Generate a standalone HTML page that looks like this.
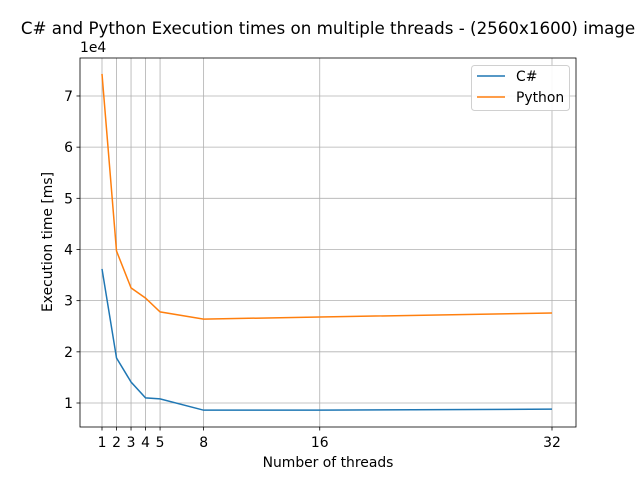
<!DOCTYPE html>
<html><head><meta charset="utf-8"><style>
body{margin:0;background:#fff;font-family:"DejaVu Sans","Liberation Sans",sans-serif;}
svg text{font-family:"DejaVu Sans","Liberation Sans",sans-serif;}
</style></head><body>
<svg id="chart" width="640" height="480" xmlns="http://www.w3.org/2000/svg">
<rect width="640" height="480" fill="#fff"/>
<text x="328" y="34" font-size="16.7" text-anchor="middle">C# and Python Execution times on multiple threads - (2560x1600) image</text>
<g id="grid"></g>
<g id="lines"></g>
<g id="axes"></g>
<text x="328" y="467" font-size="13.9" text-anchor="middle">Number of threads</text>
<text transform="translate(52,242) rotate(-90)" font-size="13.9" text-anchor="middle">Execution time [ms]</text>
<text x="80" y="52" font-size="13.9">1e4</text>
<g>
<rect x="471.5" y="65.5" width="98" height="45" rx="3" fill="#fff" stroke="#ccc" opacity="0.9"/>
<line x1="477" y1="76" x2="505" y2="76" stroke="#1f77b4" stroke-width="1.5"/>
<text x="516" y="81" font-size="13.9">C#</text>
<line x1="477" y1="97" x2="505" y2="97" stroke="#ff7f0e" stroke-width="1.5"/>
<text x="516" y="102" font-size="13.9">Python</text>
</g>
</svg>
<script>
const threads=[1,2,3,4,5,8,16,32];
const csharp=[36200,18800,14100,11000,10800,8600,8600,8800];
const python=[74300,39700,32500,30500,27800,26400,26800,27600];
const yTicks=[10000,20000,30000,40000,50000,60000,70000];
const yTickLabels=["1","2","3","4","5","6","7"];
const L=80,R=576,T=58,B=427;
function X(v){return 102+(v-1)*450/31;}
function Y(v){return 403-(v-10000)*51.17/10000;}
const ns="http://www.w3.org/2000/svg";
function mk(t,a,p){const e=document.createElementNS(ns,t);for(const k in a)e.setAttribute(k,a[k]);p.appendChild(e);return e;}
const grid=document.getElementById('grid'),axes=document.getElementById('axes'),lines=document.getElementById('lines');
threads.forEach(t=>{
 const g=mk('line',{x1:X(t),x2:X(t),y1:T,y2:B,stroke:'#b0b0b0','stroke-width':0.8},grid);
 
 
 mk('line',{x1:X(t),x2:X(t),y1:B,y2:B+3.5,stroke:'#000','stroke-width':0.8},axes);
 const tx=mk('text',{x:X(t),y:B+20,'font-size':13.9,'text-anchor':'middle'},axes);tx.textContent=t;
 
 
});
yTicks.forEach((v,i)=>{
 const g=mk('line',{x1:L,x2:R,y1:Y(v),y2:Y(v),stroke:'#b0b0b0','stroke-width':0.8},grid);
 
 
 mk('line',{x1:L-3.5,x2:L,y1:Y(v),y2:Y(v),stroke:'#000','stroke-width':0.8},axes);
 const tx=mk('text',{x:L-7,y:Y(v)+5,'font-size':13.9,'text-anchor':'end'},axes);tx.textContent=yTickLabels[i];
 
 
});
const fr=mk('rect',{x:L,y:T,width:R-L,height:B-T,fill:'none',stroke:'#000','stroke-width':0.8},axes);


[[csharp,'#1f77b4','csharp-line'],[python,'#ff7f0e','python-line']].forEach(([d,c,n])=>{
 const p=mk('polyline',{points:d.map((v,i)=>X(threads[i])+','+Y(v)).join(' '),fill:'none',stroke:c,'stroke-width':1.5},lines);
 
 
});
</script>
</body></html>
